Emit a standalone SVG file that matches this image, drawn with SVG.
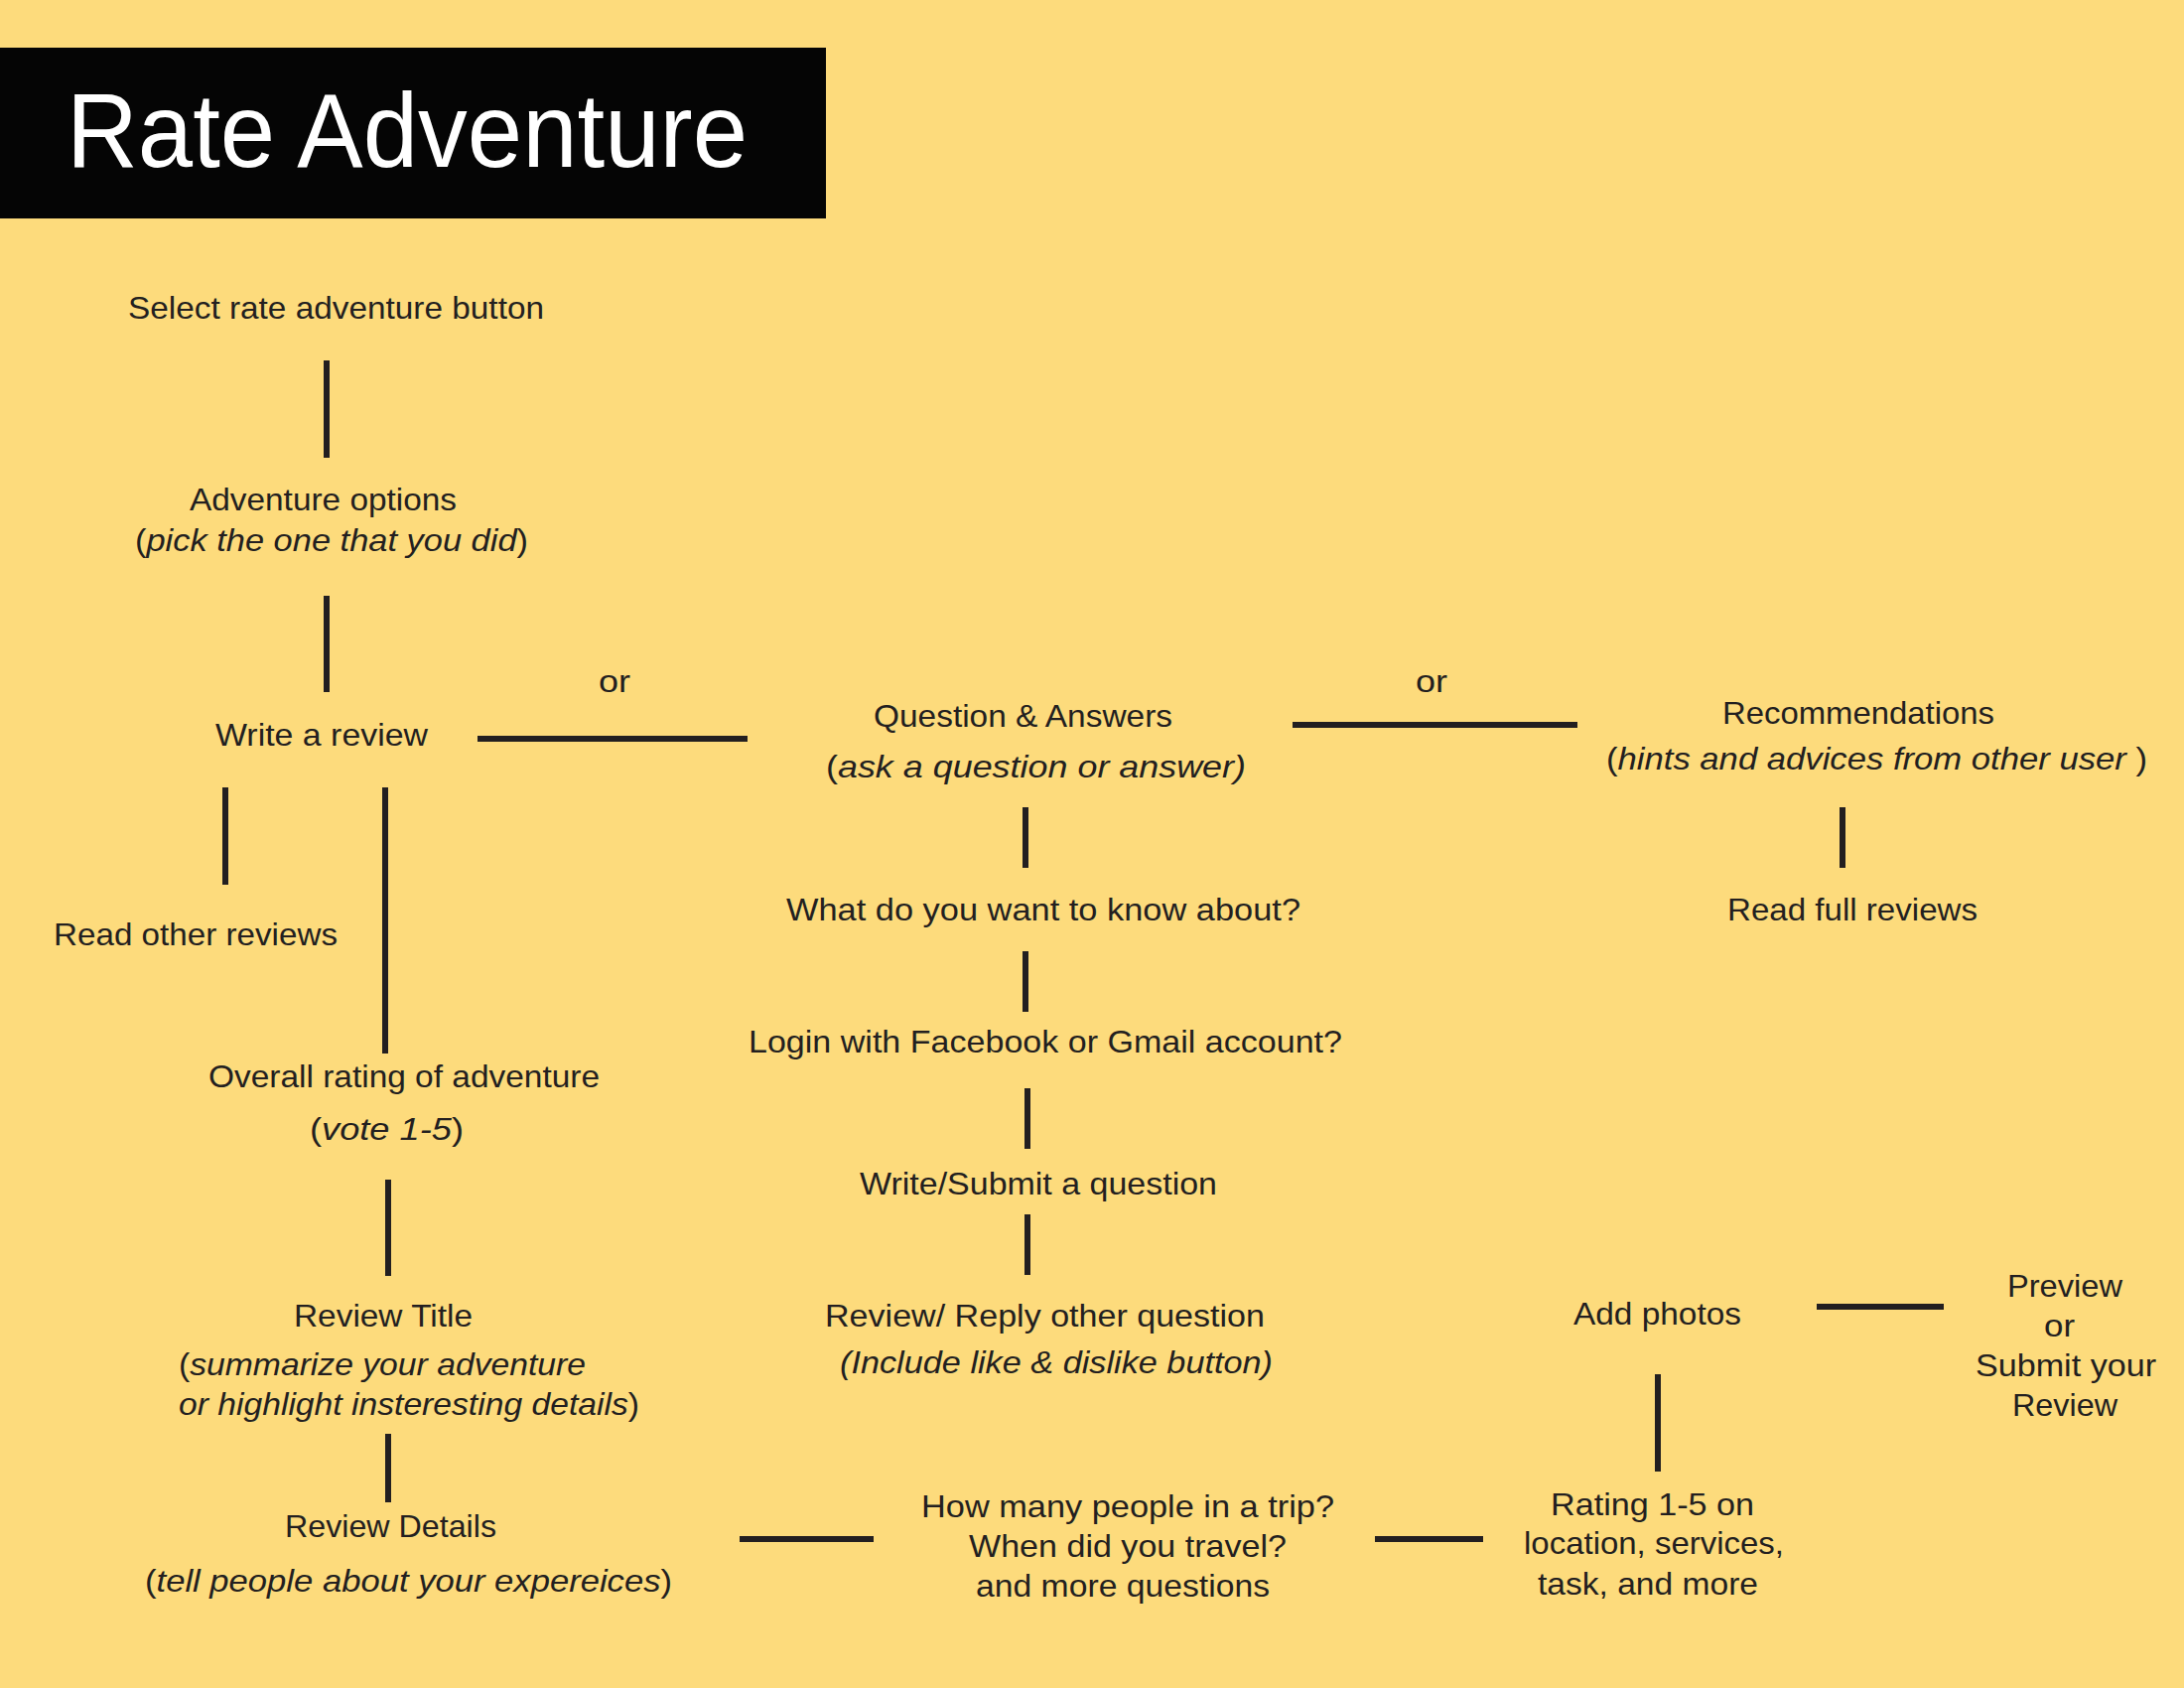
<svg xmlns="http://www.w3.org/2000/svg" width="2200" height="1700" viewBox="0 0 2200 1700">
<style>
text{font-family:"Liberation Sans",Arial,sans-serif;font-size:32px;fill:#231f20}
.c{text-anchor:start}
.i{font-style:italic}
.title{font-size:106px;fill:#ffffff}
.conn line{stroke:#231f20;stroke-width:6;stroke-linecap:butt}
</style>
<rect x="0" y="0" width="2200" height="1700" fill="#fddb7c"/>
<g id="title">
<rect x="0" y="48" width="832" height="172" fill="#050505"/>
<text class="title" x="67" y="168" textLength="686" lengthAdjust="spacingAndGlyphs">Rate Adventure</text>
</g>
<g id="n-select"><text x="129" y="321" textLength="419" lengthAdjust="spacingAndGlyphs">Select rate adventure button</text></g>
<g id="n-options">
<text x="191" y="514" textLength="269" lengthAdjust="spacingAndGlyphs">Adventure options</text>
<text x="136" y="555" textLength="396" lengthAdjust="spacingAndGlyphs">(<tspan class="i">pick the one that you did</tspan>)</text>
</g>
<g id="n-write"><text x="217" y="751" textLength="214" lengthAdjust="spacingAndGlyphs">Write a review</text></g>
<g id="n-read-other"><text x="54" y="952" textLength="286" lengthAdjust="spacingAndGlyphs">Read other reviews</text></g>
<g id="n-overall">
<text x="210" y="1095" textLength="394" lengthAdjust="spacingAndGlyphs">Overall rating of adventure</text>
<text x="312" y="1148" textLength="155" lengthAdjust="spacingAndGlyphs">(<tspan class="i">vote  1-5</tspan>)</text>
</g>
<g id="n-title">
<text x="296" y="1336" textLength="180" lengthAdjust="spacingAndGlyphs">Review Title</text>
<text x="180" y="1385" textLength="410" lengthAdjust="spacingAndGlyphs">(<tspan class="i">summarize your adventure</tspan></text>
<text x="180" y="1425" textLength="464" lengthAdjust="spacingAndGlyphs"><tspan class="i">or highlight insteresting details</tspan>)</text>
</g>
<g id="n-details">
<text x="287" y="1548" textLength="213" lengthAdjust="spacingAndGlyphs">Review Details</text>
<text x="146" y="1603" textLength="531" lengthAdjust="spacingAndGlyphs">(<tspan class="i">tell people about your expereices</tspan>)</text>
</g>
<g id="n-qa">
<text x="880" y="732" textLength="301" lengthAdjust="spacingAndGlyphs">Question &amp; Answers</text>
<text x="832" y="783" textLength="423" lengthAdjust="spacingAndGlyphs">(<tspan class="i">ask a question  or answer)</tspan></text>
</g>
<g id="n-know"><text x="792" y="927" textLength="518" lengthAdjust="spacingAndGlyphs">What do you want to know about?</text></g>
<g id="n-login"><text x="754" y="1060" textLength="598" lengthAdjust="spacingAndGlyphs">Login with Facebook or Gmail account?</text></g>
<g id="n-submit-q"><text x="866" y="1203" textLength="360" lengthAdjust="spacingAndGlyphs">Write/Submit a question</text></g>
<g id="n-reply">
<text x="831" y="1336" textLength="443" lengthAdjust="spacingAndGlyphs">Review/ Reply other question</text>
<text class="i" x="846" y="1383" textLength="436" lengthAdjust="spacingAndGlyphs">(Include like &amp; dislike button)</text>
</g>
<g id="n-questions">
<text x="928" y="1528" textLength="416" lengthAdjust="spacingAndGlyphs">How many people in a trip?</text>
<text x="976" y="1568" textLength="320" lengthAdjust="spacingAndGlyphs">When did you travel?</text>
<text x="983" y="1608" textLength="296" lengthAdjust="spacingAndGlyphs">and more questions</text>
</g>
<g id="n-rating">
<text x="1562" y="1526" textLength="205" lengthAdjust="spacingAndGlyphs">Rating  1-5 on</text>
<text x="1535" y="1565" textLength="262" lengthAdjust="spacingAndGlyphs">location, services,</text>
<text x="1549" y="1606" textLength="222" lengthAdjust="spacingAndGlyphs">task, and more</text>
</g>
<g id="n-photos"><text x="1585" y="1334" textLength="169" lengthAdjust="spacingAndGlyphs">Add photos</text></g>
<g id="n-submit">
<text x="2022" y="1306" textLength="116" lengthAdjust="spacingAndGlyphs">Preview</text>
<text x="2059" y="1346" textLength="31" lengthAdjust="spacingAndGlyphs">or</text>
<text x="1990" y="1386" textLength="182" lengthAdjust="spacingAndGlyphs">Submit your</text>
<text x="2027" y="1426" textLength="106" lengthAdjust="spacingAndGlyphs">Review</text>
</g>
<g id="n-recs">
<text x="1735" y="729" textLength="274" lengthAdjust="spacingAndGlyphs">Recommendations</text>
<text x="1618" y="775" textLength="545" lengthAdjust="spacingAndGlyphs">(<tspan class="i">hints  and  advices  from  other  user </tspan>)</text>
</g>
<g id="n-read-full"><text x="1740" y="927" textLength="252" lengthAdjust="spacingAndGlyphs">Read full reviews</text></g>
<g id="connectors" class="conn">
<line x1="329" y1="363" x2="329" y2="461"/>
<line x1="329" y1="600" x2="329" y2="697"/>
<line x1="481" y1="744" x2="753" y2="744"/>
<text x="603" y="697" textLength="32" lengthAdjust="spacingAndGlyphs">or</text>
<line x1="1302" y1="730" x2="1589" y2="730"/>
<text x="1426" y="697" textLength="32" lengthAdjust="spacingAndGlyphs">or</text>
<line x1="227" y1="793" x2="227" y2="891"/>
<line x1="388" y1="793" x2="388" y2="1061"/>
<line x1="391" y1="1188" x2="391" y2="1285"/>
<line x1="391" y1="1444" x2="391" y2="1513"/>
<line x1="745" y1="1550" x2="880" y2="1550"/>
<line x1="1385" y1="1550" x2="1494" y2="1550"/>
<line x1="1670" y1="1384" x2="1670" y2="1482"/>
<line x1="1830" y1="1316" x2="1958" y2="1316"/>
<line x1="1033" y1="813" x2="1033" y2="874"/>
<line x1="1033" y1="958" x2="1033" y2="1019"/>
<line x1="1035" y1="1096" x2="1035" y2="1157"/>
<line x1="1035" y1="1223" x2="1035" y2="1284"/>
<line x1="1856" y1="813" x2="1856" y2="874"/>
</g>
</svg>
